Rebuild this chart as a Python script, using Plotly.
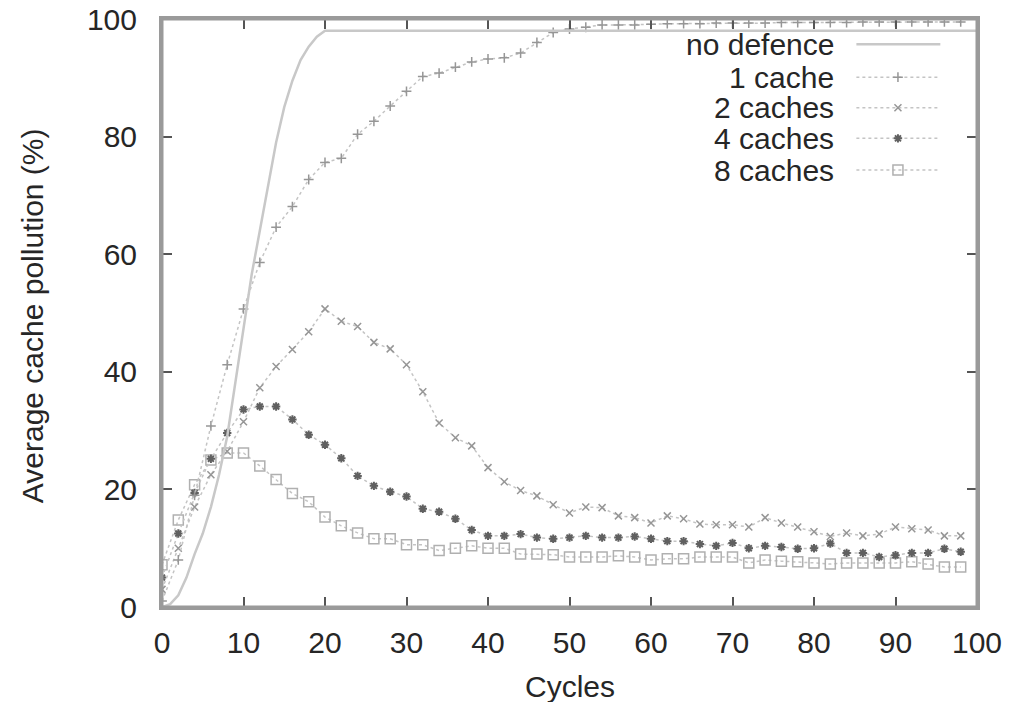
import plotly.graph_objects as go

# ---------------- data ----------------
cycles = list(range(0, 100, 2))

no_def_x = list(range(0, 21)) + [100]
no_def_y = [0, 0.5, 2, 5, 9, 12.5, 17, 22.5, 29, 38, 47.5, 56.5, 64, 71.5, 79, 85,
            89.5, 93, 95.3, 97, 98, 98]

cache1 = [1, 8, 19, 30.8, 41.2, 50.7, 58.6, 64.6, 68.1, 72.7,
          75.6, 76.3, 80.4, 82.6, 85.2, 87.7, 90.2, 90.8, 91.8, 92.7,
          93.2, 93.4, 94.2, 96.0, 97.7, 98.3, 98.6, 99.0, 99.0, 99.0,
          99.1, 99.2, 99.2, 99.2, 99.3, 99.3, 99.3, 99.3, 99.4, 99.4,
          99.4, 99.4, 99.4, 99.5, 99.5, 99.5, 99.5, 99.5, 99.5, 99.5]

cache2 = [3, 10, 17, 22.5, 26.5, 31.5, 37.3, 40.9, 43.8, 46.8,
          50.7, 48.6, 47.7, 45.0, 43.9, 41.2, 36.6, 31.3, 28.8, 27.4,
          23.7, 21.3, 19.8, 18.9, 17.4, 16.0, 17.0, 16.9, 15.5, 15.2,
          14.3, 15.5, 15.0, 14.1, 14.0, 14.0, 13.6, 15.2, 14.3, 13.6,
          12.8, 12.0, 12.6, 12.1, 12.4, 13.6, 13.3, 13.1, 12.1, 12.1]

cache4 = [5, 12.5, 19.4, 25.2, 29.6, 33.6, 34.1, 34.1, 31.9, 29.3,
          27.6, 25.3, 22.3, 20.6, 19.6, 18.8, 16.7, 16.2, 15.0, 13.1,
          12.1, 12.1, 12.4, 11.8, 11.6, 11.8, 12.1, 11.8, 11.8, 12.0,
          11.6, 11.2, 11.2, 10.7, 10.4, 10.9, 10.0, 10.4, 10.2, 9.9,
          10.0, 10.8, 9.2, 9.2, 8.5, 8.8, 9.2, 9.2, 9.9, 9.4]

cache8 = [7.2, 14.8, 20.8, 25.0, 26.2, 26.2, 24.0, 21.7, 19.3, 17.9,
          15.3, 13.8, 12.6, 11.6, 11.6, 10.6, 10.6, 9.6, 10.0, 10.4,
          10.0, 10.0, 9.0, 9.0, 8.9, 8.5, 8.5, 8.5, 8.7, 8.5,
          8.0, 8.2, 8.2, 8.5, 8.5, 8.5, 7.5, 8.0, 7.8, 7.7,
          7.5, 7.3, 7.5, 7.5, 7.5, 7.5, 7.7, 7.3, 6.8, 6.8]

series_names = ["no defence", "1 cache", "2 caches", "4 caches", "8 caches"]
x_ticks = [0, 10, 20, 30, 40, 50, 60, 70, 80, 90, 100]
y_ticks = [0, 20, 40, 60, 80, 100]

# ---------------- styles ----------------
FONT = "Liberation Sans, Arial, Helvetica, sans-serif"
TXT = "#262626"
DOT = dict(color="#c4c4c4", width=1.5, dash="dot")
styles = {
    "no defence": dict(line=dict(color="#c8c8c8", width=2.5, dash="solid"), marker=None),
    "1 cache": dict(line=DOT,
                    marker=dict(symbol="cross-thin-open", size=7, color="#969696",
                                line=dict(color="#969696", width=1.5))),
    "2 caches": dict(line=DOT,
                     marker=dict(symbol="x-thin-open", size=7, color="#969696",
                                 line=dict(color="#969696", width=1.5))),
    "4 caches": dict(line=DOT,
                     marker=dict(symbol="asterisk-open", size=7, color="#606060",
                                 line=dict(color="#606060", width=2))),
    "8 caches": dict(line=DOT,
                     marker=dict(symbol="square-open", size=10, color="#b0b0b0",
                                 line=dict(color="#b0b0b0", width=1.5))),
}

fig = go.Figure()

data_map = {
    "no defence": (no_def_x, no_def_y),
    "1 cache": (cycles, cache1),
    "2 caches": (cycles, cache2),
    "4 caches": (cycles, cache4),
    "8 caches": (cycles, cache8),
}

for name in ["8 caches", "4 caches", "2 caches", "1 cache", "no defence"]:
    xs, ys = data_map[name]
    st = styles[name]
    if st["marker"] is None:
        fig.add_trace(go.Scatter(x=xs, y=ys, mode="lines", name=name, line=st["line"],
                                 showlegend=False))
    else:
        fig.add_trace(go.Scatter(x=xs, y=ys, mode="lines+markers", name=name,
                                 line=st["line"], marker=st["marker"], showlegend=False))

# ---------------- custom legend (text left of sample, like gnuplot) ----------------
leg_rows = [0.957, 0.901, 0.849, 0.797, 0.743]
leg_text_x = 0.827
leg_x0, leg_xc, leg_x1 = 0.852, 0.903, 0.955
annotations = []
for name, ry in zip(series_names, leg_rows):
    st = styles[name]
    fig.add_trace(go.Scatter(x=[leg_x0, leg_x1], y=[ry, ry], mode="lines", line=st["line"],
                             xaxis="x2", yaxis="y2", showlegend=False, hoverinfo="skip"))
    if st["marker"] is not None:
        fig.add_trace(go.Scatter(x=[leg_xc], y=[ry], mode="markers", marker=st["marker"],
                                 xaxis="x2", yaxis="y2", showlegend=False, hoverinfo="skip"))
    annotations.append(dict(text=name, x=leg_text_x, y=ry, xref="paper", yref="paper",
                            xanchor="right", yanchor="middle", showarrow=False,
                            font=dict(family=FONT, size=30, color=TXT)))

annotations.append(dict(text="Cycles", x=0.5, y=-0.136, xref="paper", yref="paper",
                        xanchor="center", yanchor="middle", showarrow=False,
                        font=dict(family=FONT, size=30, color=TXT)))
annotations.append(dict(text="Average cache pollution (%)", x=-0.158, y=0.495, xref="paper",
                        yref="paper", xanchor="center", yanchor="middle", textangle=-90,
                        showarrow=False, font=dict(family=FONT, size=30, color=TXT)))

axis_common = dict(showgrid=False, zeroline=False, showline=True, linecolor="#9a9a9a",
                   linewidth=3, mirror="ticks", ticks="inside", ticklen=10, tickwidth=2,
                   tickcolor="#555555", automargin=False,
                   tickfont=dict(family=FONT, size=30, color=TXT))

fig.update_layout(
    width=1027, height=702,
    margin=dict(l=162, r=50, t=19, b=95),
    paper_bgcolor="white", plot_bgcolor="white",
    xaxis=dict(range=[0, 100], tickvals=x_ticks, ticklabelstandoff=7, **axis_common),
    yaxis=dict(range=[0, 100], tickvals=y_ticks, ticklabelstandoff=16, **axis_common),
    xaxis2=dict(range=[0, 1], overlaying="x", visible=False),
    yaxis2=dict(range=[0, 1], overlaying="y", visible=False),
    annotations=annotations,
    # full plot frame (gnuplot-style border box)
    shapes=[dict(type="rect", xref="paper", yref="paper", x0=0, x1=1, y0=0, y1=1,
                 line=dict(color="#9a9a9a", width=3), layer="above")],
    showlegend=False,
)

# remove the default page margin so the 1027x702 figure fills the window exactly
fig.write_html("out.html", config={"displayModeBar": False},
               post_script="document.body.style.margin='0';document.body.style.overflow='hidden';")
